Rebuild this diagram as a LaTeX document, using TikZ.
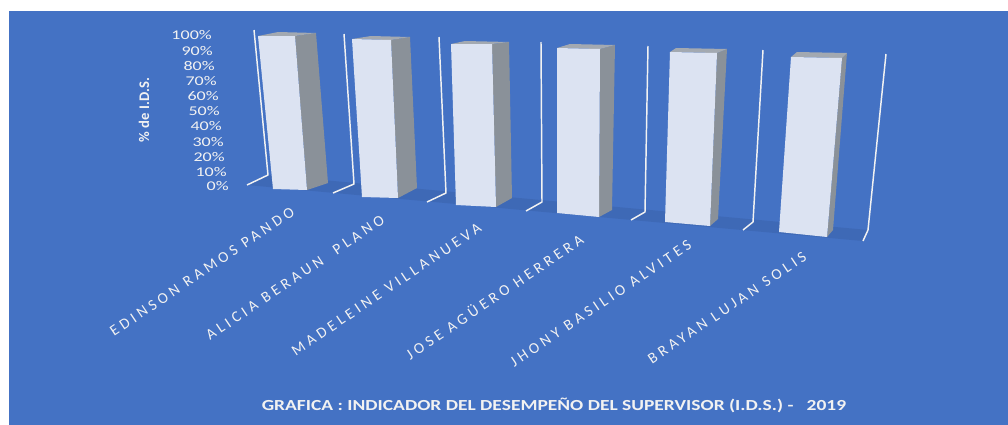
\documentclass[tikz,border=0pt]{standalone}
\usepackage{fontspec}
\setmainfont{Carlito}
\newfontfamily\tickfont[FakeStretch=1.35]{Carlito}
\newfontfamily\namefont[LetterSpace=25]{Carlito}
\newfontfamily\titlefont[FakeStretch=1.27]{Carlito}

\definecolor{chartblue}{HTML}{4472C4}
\definecolor{floorblue}{HTML}{3E69B6}
\definecolor{barfront}{HTML}{DCE3F2}
\definecolor{barside}{HTML}{8A9199}
\definecolor{bartop}{HTML}{A3A9B1}
\definecolor{labelwhite}{HTML}{F2F2F2}

\tikzset{
  frontface/.style={fill=barfront},
  sideface/.style={fill=barside},
  topface/.style={fill=bartop},
  wallline/.style={draw=labelwhite, line width=1.1pt, line join=round},
  ticklabel/.style={text=labelwhite, font=\tickfont\fontsize{10}{12}\selectfont, anchor=east, inner sep=0pt},
  namelabel/.style={text=labelwhite, font=\namefont\fontsize{11.5}{13}\selectfont, rotate=34, anchor=north east, inner sep=0pt},
}

% one bar: front TL, front TR, front BR, front BL, back TL, back TR, side bottom
\newcommand{\idsbar}[7]{%
  \fill[sideface] #2 -- #6 -- #7 -- #3 -- cycle;
  \fill[topface] #1 -- #5 -- #6 -- #2 -- cycle;
  \fill[frontface] #1 -- #2 -- #3 -- #4 -- cycle;
}

\begin{document}
\begin{tikzpicture}[x=0.75pt, y=-0.75pt]
\useasboundingbox (0,0) rectangle (1008,425);
\fill[white] (0,0) rectangle (1008,425);
\fill[chartblue] (9,11) rectangle (1008,425);

% floor
\fill[floorblue] (268,175) -- (868,230) -- (863,241) -- (247,185) -- cycle;

% wall lines
\draw[wallline] (254,30) -- (268,175) -- (247,185);
\draw[wallline] (344,34) -- (354,184) -- (333,193);
\draw[wallline] (439,37) -- (446,193) -- (427,202);
\draw[wallline] (541,42) -- (542,202) -- (526,211);
\draw[wallline] (648,46) -- (645,212) -- (631,220);
\draw[wallline] (763,50) -- (753,222) -- (743,230);
\draw[wallline] (886,54) -- (868,230) -- (863,241);

% bars
\idsbar{(258,36)}{(295,36)}{(307,190)}{(273,189)}{(278,32)}{(316,33)}{(328,183)}
\idsbar{(352,39)}{(391,40)}{(398,198)}{(362,197)}{(371,36)}{(410,37)}{(417,188)}
\idsbar{(451,44)}{(492,44)}{(496,207)}{(456,205)}{(465,41)}{(509,42)}{(512,198)}
\idsbar{(557,48)}{(600,49)}{(599,217)}{(557,213)}{(570,44)}{(615,45)}{(612,210)}
\idsbar{(670,52)}{(717,53)}{(710,226)}{(665,222)}{(676,48)}{(727,49)}{(718,219)}
\idsbar{(791,57)}{(842,58)}{(827,237)}{(779,232)}{(797,52)}{(847,53)}{(833,230)}

% axis
\node[ticklabel] (t100) at (212,35) {100\%};
\node[ticklabel] (t90) at (213,51) {90\%};
\node[ticklabel] (t80) at (215,66) {80\%};
\node[ticklabel] (t70) at (217,81) {70\%};
\node[ticklabel] (t60) at (219,96) {60\%};
\node[ticklabel] (t50) at (220,111) {50\%};
\node[ticklabel] (t40) at (222,126) {40\%};
\node[ticklabel] (t30) at (224,142) {30\%};
\node[ticklabel] (t20) at (225,157) {20\%};
\node[ticklabel] (t10) at (227,172) {10\%};
\node[ticklabel] (t0) at (229,186) {0\%};
\node[text=labelwhite, font=\bfseries\fontsize{11}{13}\selectfont, rotate=90] (ytitle) at (144,110) {\% de I.D.S.};

% names
\node[namelabel] (n1) at (290,206) {EDINSON RAMOS PANDO};
\node[namelabel] (n2) at (380,214) {ALICIA BERAUN\ \ PLANO};
\node[namelabel] (n3) at (477,222) {MADELEINE VILLANUEVA};
\node[namelabel] (n4) at (578,232) {JOSE AGÜERO HERRERA};
\node[namelabel] (n5) at (687,239) {JHONY BASILIO ALVITES};
\node[namelabel] (n6) at (802,251) {BRAYAN LUJAN SOLIS};

\node[text=labelwhite, font=\titlefont\bfseries\fontsize{11.5}{14}\selectfont] (title) at (554,405)
  {GRAFICA : INDICADOR DEL DESEMPEÑO DEL SUPERVISOR (I.D.S.) -\ \ \ 2019};
\end{tikzpicture}
\end{document}
